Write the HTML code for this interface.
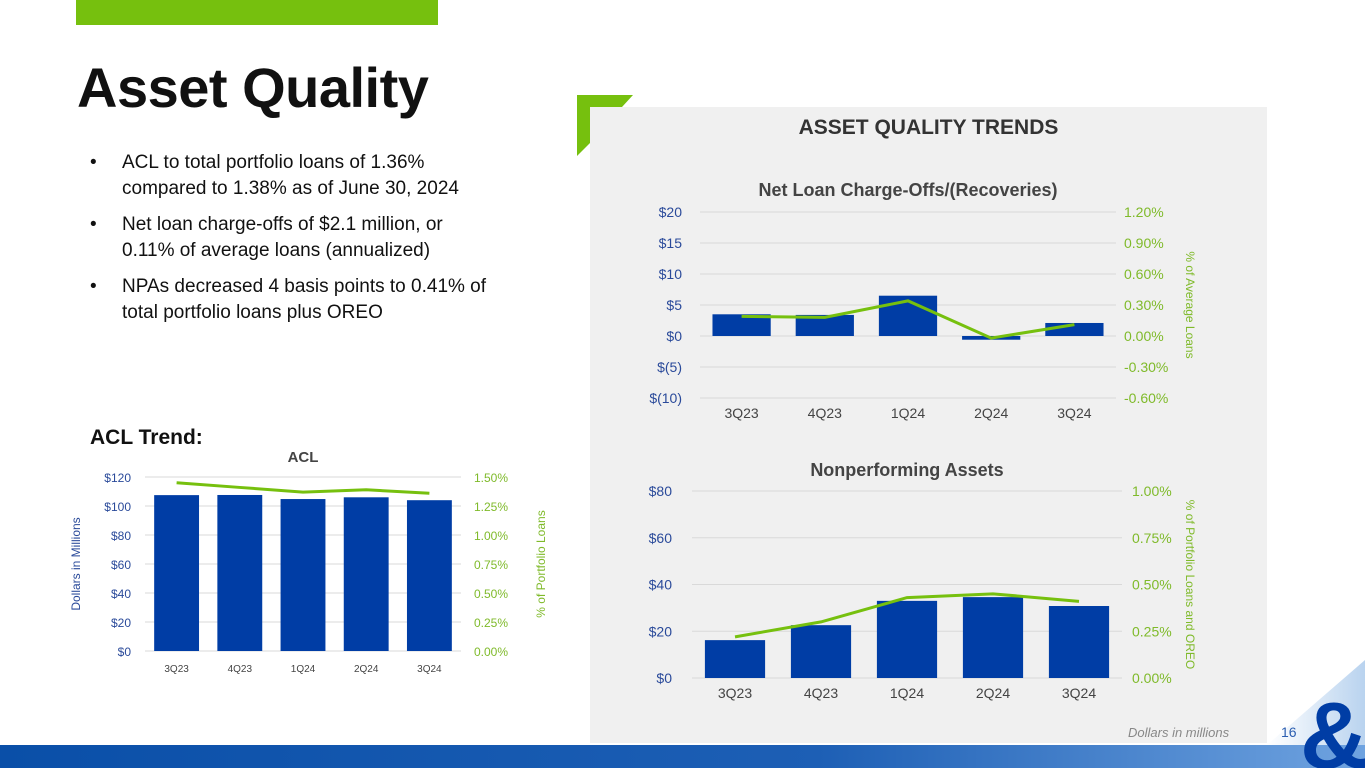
<!DOCTYPE html>
<html><head><meta charset="utf-8"><style>
body{margin:0;width:1365px;height:768px;overflow:hidden;background:#fff;font-family:"Liberation Sans",sans-serif;position:relative}
.abs{position:absolute}
</style></head><body>
<div class="abs" style="left:76px;top:0;width:362px;height:25px;background:#76c00e"></div>
<div class="abs" style="left:77px;top:55px;font-size:56px;font-weight:bold;color:#111;letter-spacing:-0.5px">Asset Quality</div>
<div class="abs" style="left:90px;top:150px;font-size:19px;line-height:26px;color:#111;width:460px">
<div style="display:flex;margin-bottom:10px"><span style="width:32px;flex:none">•</span><span style="width:385px">ACL to total portfolio loans of 1.36% compared to 1.38% as of June 30, 2024</span></div>
<div style="display:flex;margin-bottom:10px"><span style="width:32px;flex:none">•</span><span style="width:360px">Net loan charge-offs of $2.1 million, or 0.11% of average loans (annualized)</span></div>
<div style="display:flex"><span style="width:32px;flex:none">•</span><span style="width:390px">NPAs decreased 4 basis points to 0.41% of total portfolio loans plus OREO</span></div>
</div>
<div class="abs" style="left:90px;top:426px;font-size:21px;font-weight:bold;color:#111">ACL Trend:</div>
<div class="abs" style="left:590px;top:107px;width:677px;height:636px;background:#f0f0f0"></div>
<svg class="abs" style="left:0;top:0" width="1365" height="768">
<defs><linearGradient id="bg" x1="0" x2="1"><stop offset="0" stop-color="#0a4fa8"/><stop offset="0.6" stop-color="#1d5fb5"/><stop offset="1" stop-color="#6fa3e0"/></linearGradient>
<linearGradient id="cg" x1="0" x2="1"><stop offset="0" stop-color="#fff"/><stop offset="1" stop-color="#b9d3ef"/></linearGradient></defs>
<polygon points="577,95 633,95 622,107 590,107 590,143 577,156" fill="#76c00e"/>
<polygon points="1267,745 1365,660 1365,745" fill="url(#cg)"/>
<rect x="0" y="745" width="1365" height="23" fill="url(#bg)"/>
<text x="1300" y="768" font-size="95" font-weight="bold" fill="#003da5" font-family="Liberation Sans">&amp;</text>
</svg>
<div class="abs" style="left:590px;width:677px;top:116px;text-align:center;font-size:21px;font-weight:bold;color:#333">ASSET QUALITY TRENDS</div>
<div class="abs" style="left:1128px;top:725px;font-size:13px;font-style:italic;color:#888">Dollars in millions</div>
<div class="abs" style="left:1281px;top:724px;font-size:14px;color:#2a5db0">16</div>
<svg id="charts" class="abs" style="left:0;top:0" width="1365" height="768"></svg>
<script>
const categories=["3Q23","4Q23","1Q24","2Q24","3Q24"];
const aclValues=[107.5,107.6,104.8,106,104];
const aclPct=[1.45,1.41,1.37,1.39,1.36];
const aclLeftTicks=["$0","$20","$40","$60","$80","$100","$120"];
const aclRightTicks=["0.00%","0.25%","0.50%","0.75%","1.00%","1.25%","1.50%"];
const ncoValues=[3.5,3.4,6.5,-0.6,2.1];
const ncoPct=[0.19,0.18,0.34,-0.02,0.11];
const ncoLeftTicks=["$(10)","$(5)","$0","$5","$10","$15","$20"];
const ncoRightTicks=["-0.60%","-0.30%","0.00%","0.30%","0.60%","0.90%","1.20%"];
const npaValues=[16.2,22.6,33,34.6,30.8];
const npaPct=[0.22,0.30,0.43,0.45,0.41];
const npaLeftTicks=["$0","$20","$40","$60","$80"];
const npaRightTicks=["0.00%","0.25%","0.50%","0.75%","1.00%"];
const svg=document.getElementById('charts');
const NS="http://www.w3.org/2000/svg";
function mk(tag,attrs,parent){const e=document.createElementNS(NS,tag);for(const k in attrs)e.setAttribute(k,attrs[k]);(parent||svg).appendChild(e);return e;}
function txt(x,y,s,size,fill,anchor,weight,g){const t=mk('text',{x:x,y:y,'font-size':size,fill:fill,'text-anchor':anchor||'middle','font-family':'Liberation Sans, sans-serif','font-weight':weight||'normal'},g);t.textContent=s;return t;}
function chart(c){
  const g=mk('g',{});
  
  
  const yL=v=>c.y0-(v-c.lmin)/(c.lmax-c.lmin)*(c.y0-c.y1);
  const yR=v=>c.y0-(v-c.rmin)/(c.rmax-c.rmin)*(c.y0-c.y1);
  const band=(c.x1-c.x0)/categories.length;
  const xc=i=>c.x0+band*(i+0.5);
  const n=c.lt.length;
  for(let i=0;i<n;i++){
    const yy=c.y0-i*(c.y0-c.y1)/(n-1);
    const gl=mk('line',{x1:c.x0,x2:c.x1,y1:yy,y2:yy,stroke:'#d9d9d9','stroke-width':1},g);
    
    
    const tl=txt(c.x0-c.lpad,yy+5,c.lt[i],c.fs,'#2a4a9a','end','normal',g);
    
    
    const tr=txt(c.x1+c.rpad,yy+5,c.rt[i],c.fs,'#7fba2a','start','normal',g);
    
    
  }
  const bw=band*c.bwf;
  c.vals.forEach((v,i)=>{
    const a=yL(v),b=yL(0);
    const r=mk('rect',{x:xc(i)-bw/2,y:Math.min(a,b),width:bw,height:Math.abs(b-a),fill:'#003da5'},g);
    
    
    const cl=txt(xc(i),c.catY,categories[i],c.cfs,'#444','middle','normal',g);
    
    
  });
  const pl=mk('polyline',{points:c.pct.map((p,i)=>xc(i)+','+yR(p)).join(' '),fill:'none',stroke:'#76c00e','stroke-width':3},g);
  
  
  const t=txt((c.x0+c.x1)/2,c.titleY,c.title,c.tfs,'#444','middle','bold',g);
  
  
  if(c.ytitle){const yt=txt(0,0,c.ytitle,12,'#2a4a9a','middle','normal',g);yt.setAttribute('transform','translate('+c.ytx+','+(c.y0+c.y1)/2+') rotate(-90)');}
  const rt=txt(0,0,c.rtitle,12,'#7fba2a','middle','normal',g);
  rt.setAttribute('transform','translate('+c.rtx+','+(c.y0+c.y1)/2+') rotate('+c.rrot+')');
  
  
}
chart({name:'acl-chart',x0:145,x1:461,y0:651,y1:477,lmin:0,lmax:120,rmin:0,rmax:1.5,lt:aclLeftTicks,rt:aclRightTicks,vals:aclValues,pct:aclPct,bwf:0.71,lpad:14,rpad:13,fs:12,cfs:10,catY:672,title:'ACL',titleY:462,tfs:15,ytitle:'Dollars in Millions',ytx:80,rtitle:'% of Portfolio Loans',rtx:545,rrot:-90});
chart({name:'net-charge-offs-chart',x0:700,x1:1116,y0:398,y1:212,lmin:-10,lmax:20,rmin:-0.6,rmax:1.2,lt:ncoLeftTicks,rt:ncoRightTicks,vals:ncoValues,pct:ncoPct,bwf:0.7,lpad:18,rpad:8,fs:14,cfs:14,catY:418,title:'Net Loan Charge-Offs/(Recoveries)',titleY:196,tfs:18,rtitle:'% of Average Loans',rtx:1186,rrot:90});
chart({name:'nonperforming-assets-chart',x0:692,x1:1122,y0:678,y1:491,lmin:0,lmax:80,rmin:0,rmax:1.0,lt:npaLeftTicks,rt:npaRightTicks,vals:npaValues,pct:npaPct,bwf:0.7,lpad:20,rpad:10,fs:14,cfs:14,catY:698,title:'Nonperforming Assets',titleY:476,tfs:18,rtitle:'% of Portfolio Loans and OREO',rtx:1186,rrot:90});
</script>
</body></html>
